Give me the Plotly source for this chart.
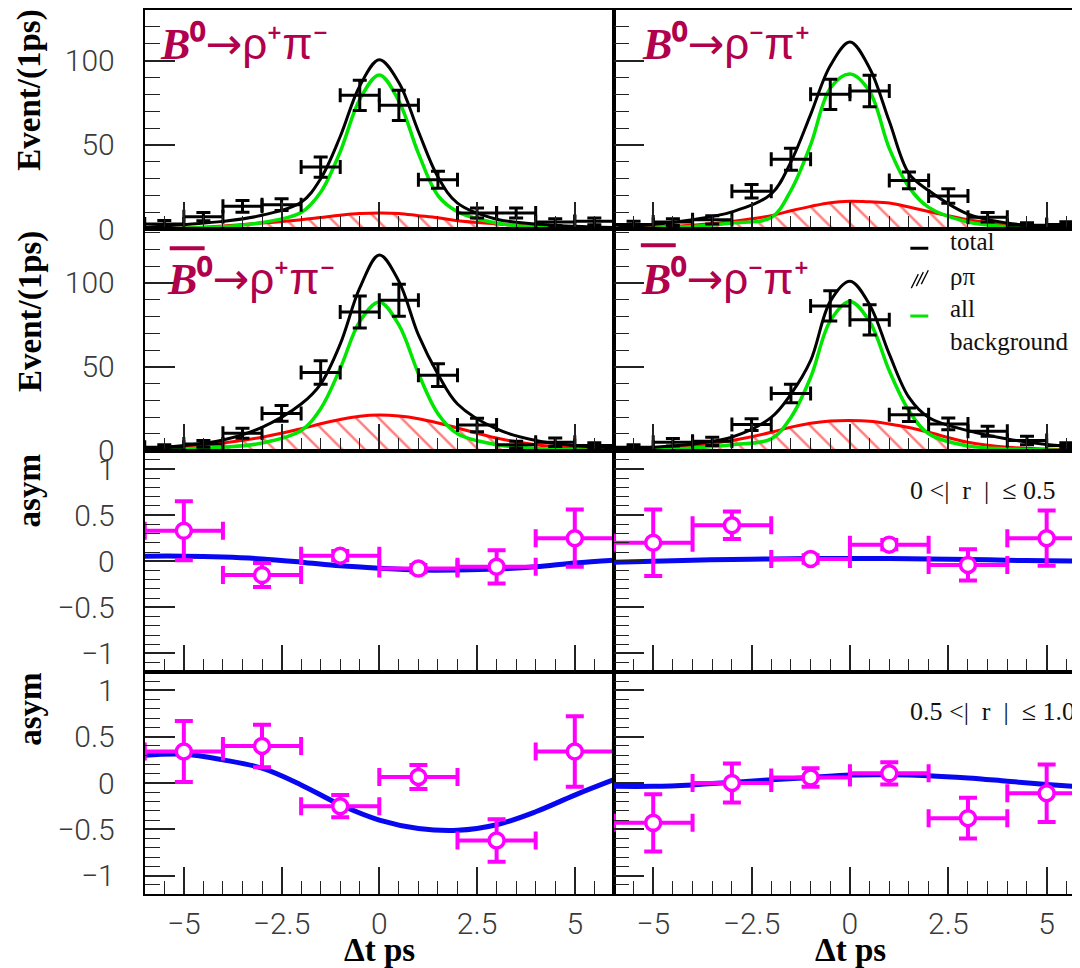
import plotly.graph_objects as go

# ---------------- data ----------------
BIN_X = [-5.5, -4.5, -3.5, -2.5, -1.5, -0.5, 0.5, 1.5, 2.5, 3.5, 4.5, 5.5]
BIN_HALF = 0.5

CNT_B0_RPPM = [3.2, 7.5, 13.6, 14.6, 36.9, 79.4, 73.5, 29.4, 9.7, 9.7, 4.3, 4.7]
ERR_B0_RPPM = [2.0, 2.5, 3.5, 3.5, 6.0, 9.0, 9.0, 5.0, 3.0, 3.0, 2.0, 2.0]
CNT_B0_RMPP = [2.8, 4.3, 5.6, 22.5, 41.5, 80.0, 82.0, 29.0, 19.8, 7.1, 2.4, 2.8]
ERR_B0_RMPP = [2.0, 2.0, 2.5, 4.0, 6.5, 9.0, 9.3, 5.0, 4.3, 2.8, 1.5, 1.7]
CNT_B0B_RPPM = [2.0, 4.0, 10.3, 22.2, 46.6, 82.7, 89.7, 45.0, 15.3, 3.5, 5.0, 3.0]
ERR_B0B_RPPM = [1.5, 2.0, 3.0, 4.7, 7.0, 9.5, 9.5, 6.8, 4.0, 2.0, 2.5, 1.7]
CNT_B0B_RMPP = [2.0, 5.0, 5.5, 15.5, 34.0, 86.3, 78.0, 21.4, 15.9, 11.5, 6.0, 3.0]
ERR_B0B_RMPP = [1.5, 2.2, 2.4, 3.5, 5.5, 9.0, 9.0, 4.0, 3.5, 3.0, 2.5, 1.7]

T_CURVE = [-6, -5, -4, -3, -2, -1.5, -1, -0.5, 0, 0.5, 1, 1.5, 2, 3, 4, 5, 6]
TOT_B0_RPPM = [1.0, 2.8, 4.7, 8.3, 16.0, 30.0, 55.0, 85.0, 100.5, 87.0, 58.0, 31.0, 15.5, 6.0, 3.2, 1.8, 1.0]
BKG_B0_RPPM = [0.2, 0.6, 1.5, 4.0, 10.0, 22.0, 46.0, 77.0, 91.5, 76.0, 45.0, 20.0, 10.5, 3.7, 1.2, 0.5, 0.2]
RP_B0_RPPM = [0.3, 0.8, 2.0, 3.7, 5.7, 7.0, 8.3, 9.3, 9.7, 9.4, 8.1, 6.8, 5.1, 3.2, 1.6, 0.6, 0.3]

TOT_B0_RMPP = [0.8, 2.8, 5.7, 10.3, 21.0, 40.0, 68.0, 97.0, 111.0, 95.5, 64.0, 33.0, 23.0, 9.0, 3.7, 1.8, 1.0]
BKG_B0_RMPP = [0.2, 0.6, 1.6, 3.7, 7.0, 23.0, 50.0, 83.6, 92.0, 81.7, 48.0, 25.0, 13.0, 4.3, 1.5, 0.5, 0.2]
RP_B0_RMPP = [0.2, 1.2, 2.4, 4.7, 8.1, 11.0, 13.6, 15.8, 16.6, 16.3, 15.6, 13.2, 10.6, 5.7, 2.8, 1.2, 0.4]

TOT_B0B_RPPM = [1.0, 3.0, 6.3, 13.9, 27.8, 39.7, 63.5, 97.0, 116.7, 101.0, 69.0, 45.6, 27.8, 12.9, 6.0, 3.0, 1.6]
BKG_B0B_RPPM = [0.3, 1.0, 2.0, 4.5, 12.0, 25.0, 49.0, 77.0, 88.7, 75.0, 46.0, 22.0, 10.0, 3.5, 1.3, 0.5, 0.2]
RP_B0B_RPPM = [1.5, 2.6, 4.5, 8.0, 13.0, 16.0, 18.5, 20.5, 21.2, 20.6, 19.0, 16.5, 13.5, 7.5, 3.5, 1.8, 0.8]

TOT_B0B_RMPP = [0.8, 2.0, 4.0, 8.0, 19.8, 33.7, 53.6, 89.0, 101.0, 87.0, 57.5, 31.7, 19.8, 11.9, 6.9, 3.6, 2.0]
BKG_B0B_RMPP = [0.2, 0.6, 1.5, 3.5, 7.0, 19.8, 43.6, 77.4, 89.0, 77.0, 47.6, 23.8, 10.0, 2.8, 1.0, 0.4, 0.2]
RP_B0B_RMPP = [0.5, 1.4, 3.0, 6.0, 10.9, 14.0, 16.3, 17.6, 17.9, 17.5, 15.9, 13.8, 10.9, 5.0, 2.0, 1.0, 0.4]

ASYM_X = [-5, -3, -1, 1, 3, 5]
ASYM_HALF = 1.0
ASYM_R1_RPPM = [0.33, -0.15, 0.06, -0.08, -0.06, 0.25]
ASYM_R1_RPPM_ERR = [0.32, 0.13, 0.05, 0.04, 0.18, 0.31]
ASYM_R1_RMPP = [0.20, 0.39, 0.025, 0.18, -0.04, 0.25]
ASYM_R1_RMPP_ERR = [0.36, 0.15, 0.04, 0.05, 0.17, 0.30]
ASYM_R2_RPPM = [0.34, 0.40, -0.25, 0.065, -0.62, 0.34]
ASYM_R2_RPPM_ERR = [0.33, 0.23, 0.12, 0.13, 0.23, 0.38]
ASYM_R2_RMPP = [-0.43, 0.0, 0.06, 0.105, -0.38, -0.11]
ASYM_R2_RMPP_ERR = [0.31, 0.21, 0.10, 0.12, 0.22, 0.31]

T_ASYM = [-6, -5, -4, -3, -2, -1, 0, 1, 2, 3, 4, 5, 6]
FIT_R1_RPPM = [0.055, 0.055, 0.045, 0.025, -0.01, -0.05, -0.076, -0.095, -0.095, -0.085, -0.06, -0.02, 0.01]
FIT_R1_RMPP = [-0.01, 0.0, 0.01, 0.02, 0.025, 0.03, 0.03, 0.03, 0.025, 0.02, 0.01, 0.005, 0.0]
FIT_R2_RPPM = [0.30, 0.31, 0.25, 0.16, -0.02, -0.235, -0.40, -0.49, -0.51, -0.45, -0.31, -0.13, 0.036]
FIT_R2_RMPP = [-0.036, -0.036, -0.02, 0.007, 0.036, 0.06, 0.087, 0.09, 0.08, 0.055, 0.02, -0.015, -0.047]

X_TICKS = [-5, -2.5, 0, 2.5, 5]

# ---------------- figure ----------------
OFF = 8          # page body margin
W, H = 1080, 970
VSQ = 0.9825     # vertical squeeze observed in the rendered picture
def px(x): return (x - OFF) / W
def py(y): return 1 - (y - OFF) / (H * VSQ)

CRIMSON = "#b1004c"
MAGENTA = "#ff00ff"
BLUE = "#0808f0"
GREEN = "#00e600"
RED = "#ff0000"

fig = go.Figure()

def ax(k):
    return ("x" if k == 1 else f"x{k}"), ("y" if k == 1 else f"y{k}")

count_panels = [
    (1, CNT_B0_RPPM, ERR_B0_RPPM, TOT_B0_RPPM, BKG_B0_RPPM, RP_B0_RPPM),
    (2, CNT_B0_RMPP, ERR_B0_RMPP, TOT_B0_RMPP, BKG_B0_RMPP, RP_B0_RMPP),
    (3, CNT_B0B_RPPM, ERR_B0B_RPPM, TOT_B0B_RPPM, BKG_B0B_RPPM, RP_B0B_RPPM),
    (4, CNT_B0B_RMPP, ERR_B0B_RMPP, TOT_B0B_RMPP, BKG_B0B_RMPP, RP_B0B_RMPP),
]
for k, cnt, err, tot, bkg, rp in count_panels:
    xa, ya = ax(k)
    fig.add_trace(go.Scatter(
        x=T_CURVE, y=rp, xaxis=xa, yaxis=ya, mode="lines",
        line=dict(color=RED, width=3, shape="spline", smoothing=1),
        fill="tozeroy", fillcolor="rgba(0,0,0,0)",
        fillpattern=dict(shape="\\", fgcolor=RED, bgcolor="rgba(0,0,0,0)",
                         size=16, solidity=0.16, fillmode="overlay"),
        showlegend=False, hoverinfo="skip"))
    fig.add_trace(go.Scatter(
        x=T_CURVE, y=bkg, xaxis=xa, yaxis=ya, mode="lines",
        line=dict(color=GREEN, width=3.5, shape="spline", smoothing=1),
        showlegend=False))
    fig.add_trace(go.Scatter(
        x=T_CURVE, y=tot, xaxis=xa, yaxis=ya, mode="lines",
        line=dict(color="black", width=3, shape="spline", smoothing=1),
        showlegend=False))
    fig.add_trace(go.Scatter(
        x=BIN_X, y=cnt, xaxis=xa, yaxis=ya, mode="markers",
        marker=dict(size=2, color="black"),
        error_x=dict(type="constant", value=BIN_HALF, color="black", thickness=3, width=7),
        error_y=dict(type="data", array=err, color="black", thickness=3, width=7),
        showlegend=False))

asym_panels = [
    (5, ASYM_R1_RPPM, ASYM_R1_RPPM_ERR, FIT_R1_RPPM),
    (6, ASYM_R1_RMPP, ASYM_R1_RMPP_ERR, FIT_R1_RMPP),
    (7, ASYM_R2_RPPM, ASYM_R2_RPPM_ERR, FIT_R2_RPPM),
    (8, ASYM_R2_RMPP, ASYM_R2_RMPP_ERR, FIT_R2_RMPP),
]
for k, a, e, fit in asym_panels:
    xa, ya = ax(k)
    fig.add_trace(go.Scatter(
        x=T_ASYM, y=fit, xaxis=xa, yaxis=ya, mode="lines",
        line=dict(color=BLUE, width=5, shape="spline", smoothing=1),
        showlegend=False))
    fig.add_trace(go.Scatter(
        x=ASYM_X, y=a, xaxis=xa, yaxis=ya, mode="markers",
        marker=dict(size=15, color="white", line=dict(color=MAGENTA, width=3.5)),
        error_x=dict(type="constant", value=ASYM_HALF, color=MAGENTA, thickness=4, width=9),
        error_y=dict(type="data", array=e, color=MAGENTA, thickness=4, width=9),
        showlegend=False))

# ---------------- axes ----------------
LEFT, MID = 145, 615
ROW_EDGES = [8, 228, 450, 672, 895]
TICKFONT = dict(family="Roboto, Liberation Sans, sans-serif", size=30, color="#3a3a3a", weight=300)

layout = {}
for k in range(1, 9):
    r, c = (k - 1) // 2, (k - 1) % 2
    xname = "xaxis" if k == 1 else f"xaxis{k}"
    yname = "yaxis" if k == 1 else f"yaxis{k}"
    xa, ya = ax(k)
    xdom = [px(LEFT), px(MID)] if c == 0 else [px(MID), 1.0]
    layout[xname] = dict(
        domain=xdom, range=[-6, 6], anchor=ya,
        showline=True, linewidth=2, linecolor="black", mirror=True,
        ticks="inside", tickmode="array", tickvals=X_TICKS, ticklen=27, tickwidth=1.5, tickcolor="#222",
        minor=dict(ticks="inside", dtick=0.5, tick0=0, ticklen=13, tickwidth=1.2, tickcolor="#222"),
        showgrid=False, zeroline=False,
        showticklabels=(r == 3), tickfont=TICKFONT, ticklabelstandoff=2,
    )
    ydom = [py(ROW_EDGES[r + 1]), min(1.0, py(ROW_EDGES[r]))]
    if r < 2:
        yr = [0, 130] if r == 0 else [0, 132]
        ytick = dict(tickmode="linear", tick0=0, dtick=50,
                     minor=dict(ticks="inside", dtick=10, tick0=0, ticklen=15, tickwidth=1.2, tickcolor="#222"))
    else:
        yr = [-1.2, 1.2]
        ytick = dict(tickmode="linear", tick0=0, dtick=0.5,
                     minor=dict(ticks="inside", dtick=0.1, tick0=0, ticklen=15, tickwidth=1.2, tickcolor="#222"))
    layout[yname] = dict(
        domain=ydom, range=yr, anchor=xa,
        showline=True, linewidth=2, linecolor="black", mirror=True,
        ticks="inside", ticklen=30, tickwidth=1.5, tickcolor="#222",
        showgrid=False, zeroline=False,
        showticklabels=(c == 0), tickfont=TICKFONT, ticklabelstandoff=22,
        **ytick,
    )

annotations = []
shapes = []

SERIF = "Liberation Serif, Times New Roman, serif"
SANS = "Liberation Sans, Arial, sans-serif"

# y titles
for txt, yc in [("Event/(1ps)", 88), ("Event/(1ps)", 310), ("asym", 490), ("asym", 709)]:
    annotations.append(dict(x=px(30), y=py(yc), xref="paper", yref="paper", text=f"<b>{txt}</b>",
                            textangle=-90, showarrow=False, xanchor="center", yanchor="middle",
                            font=dict(family=SERIF, size=33, color="black")))
# x titles
for xc in [380, 852]:
    annotations.append(dict(x=px(xc), y=py(951), xref="paper", yref="paper", text="<b>Δt ps</b>",
                            showarrow=False, xanchor="center", yanchor="middle",
                            font=dict(family=SERIF, size=33, color="black")))

def decay_label(sign1, sign2):
    return (f"<span style='font-family:{SERIF}'><b><i>B</i>⁰</b></span>"
            f"<span style='font-family:DejaVu Sans'>→</span>"
            f"<span style='font-family:{SANS}'>ρ{sign1}π{sign2}</span>")

SUP = {"+": "⁺", "−": "⁻"}
for (xl, yc, s1, s2) in [(158, 42, "+", "−"), (641, 42, "−", "+"), (165, 277, "+", "−"), (640, 277, "−", "+")]:
    annotations.append(dict(x=px(xl), y=py(yc), xref="paper", yref="paper", text=decay_label(SUP[s1], SUP[s2]),
                            showarrow=False, xanchor="left", yanchor="middle",
                            font=dict(size=44, color=CRIMSON)))
# bars for anti-B
for (x0, x1, yy) in [(170, 205, 247), (642, 677, 244)]:
    shapes.append(dict(type="line", xref="paper", yref="paper", x0=px(x0), x1=px(x1),
                       y0=py(yy), y1=py(yy), line=dict(color=CRIMSON, width=4)))

# legend (row 2 right)
LEGFONT = dict(family=SERIF, size=25, color="#111")
for txt, yc in [("total", 240), ("ρπ", 275), ("all", 307), ("background", 341)]:
    annotations.append(dict(x=px(950), y=py(yc), xref="paper", yref="paper", text=txt,
                            showarrow=False, xanchor="left", yanchor="middle", font=LEGFONT))
shapes.append(dict(type="line", xref="paper", yref="paper", x0=px(912), x1=px(930), y0=py(247), y1=py(247),
                   line=dict(color="black", width=3)))
shapes.append(dict(type="line", xref="paper", yref="paper", x0=px(912), x1=px(930), y0=py(315), y1=py(315),
                   line=dict(color=GREEN, width=3)))
for i in range(3):
    shapes.append(dict(type="line", xref="paper", yref="paper",
                       x0=px(913 + 5 * i), x1=px(920 + 5 * i), y0=py(287 - 2 * i), y1=py(273 - 2 * i),
                       line=dict(color="black", width=1.3)))

# |r| range labels
RFONT = dict(family=SERIF, size=26, color="#111")
annotations.append(dict(x=px(910), y=py(490), xref="paper", yref="paper",
                        text="0 &lt;|\u00a0\u00a0r\u00a0\u00a0|\u00a0\u00a0≤ 0.5",
                        showarrow=False, xanchor="left", yanchor="middle", font=RFONT))
annotations.append(dict(x=px(910), y=py(712), xref="paper", yref="paper",
                        text="0.5 &lt;|\u00a0\u00a0r\u00a0\u00a0|\u00a0\u00a0≤ 1.0",
                        showarrow=False, xanchor="left", yanchor="middle", font=RFONT))

fig.update_layout(
    width=W, height=H, autosize=False,
    margin=dict(l=0, r=0, t=0, b=0),
    paper_bgcolor="white", plot_bgcolor="white",
    annotations=annotations, shapes=shapes,
    **layout,
)

fig.write_html("out.html")
